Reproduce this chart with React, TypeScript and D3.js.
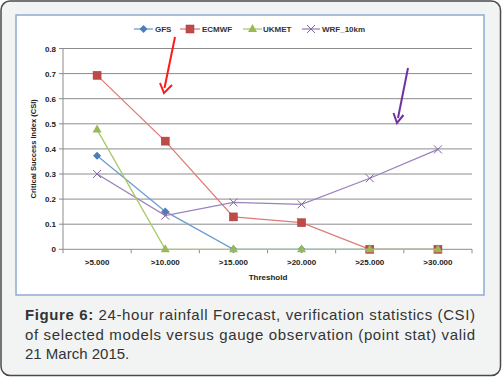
import React from "react";
import * as d3 from "d3";

const categories = [">5.000", ">10.000", ">15.000", ">20.000", ">25.000", ">30.000"];
const gfs = [0.373, 0.151, 0, 0, 0, 0];
const ecmwf = [0.693, 0.431, 0.129, 0.106, 0, 0];
const ukmet = [0.477, 0, 0, 0, 0, 0];
const wrf = [0.3, 0.134, 0.187, 0.179, 0.283, 0.398];
const yTicks = [0, 0.1, 0.2, 0.3, 0.4, 0.5, 0.6, 0.7, 0.8];
const seriesNames = ["GFS", "ECMWF", "UKMET", "WRF_10km"];

const W = 502, H = 377;
const plot = { left: 63, right: 472, top: 48.5, bottom: 249.3 };

export default function App() {
  const x = d3.scaleBand().domain(categories).range([plot.left, plot.right]);
  const y = d3.scaleLinear().domain([0, 0.8]).range([plot.bottom, plot.top]);
  const cx = (c: string) => (x(c) as number) + x.bandwidth() / 2;
  const line = (vals: number[]) =>
    d3.line<number>().x((_, i) => cx(categories[i])).y((v) => y(v))(vals) as string;

  const series = [
    { name: seriesNames[0], vals: gfs, color: "#4a7ebb", line: "#6d9bd3", marker: "diamond" },
    { name: seriesNames[1], vals: ecmwf, color: "#be4b48", line: "#e07a76", marker: "square" },
    { name: seriesNames[3], vals: wrf, color: "#8064a2", line: "#9a82bd", marker: "x" },
    { name: seriesNames[2], vals: ukmet, color: "#98b954", line: "#a9c96a", marker: "triangle" },
  ];

  const marker = (type: string, px: number, py: number, color: string, key: string) => {
    if (type === "diamond")
      return <path key={key} d={`M${px},${py - 4}L${px + 4},${py}L${px},${py + 4}L${px - 4},${py}Z`} fill={color} />;
    if (type === "square")
      return <rect key={key} x={px - 4} y={py - 4} width={8} height={8} fill={color} stroke="#a33a37" strokeWidth={0.5} />;
    if (type === "triangle")
      return <path key={key} d={`M${px},${py - 5}L${px + 4.5},${py + 3}L${px - 4.5},${py + 3}Z`} fill={color} />;
    return (
      <path key={key} d={`M${px - 4},${py - 4}L${px + 4},${py + 4}M${px + 4},${py - 4}L${px - 4},${py + 4}`} stroke={color} strokeWidth={1} />
    );
  };

  const legendItems = [
    { name: "GFS", x1: 134, x2: 153, tx: 155, color: "#4a7ebb", line: "#6d9bd3", marker: "diamond" },
    { name: "ECMWF", x1: 180, x2: 200, tx: 202, color: "#be4b48", line: "#e07a76", marker: "square" },
    { name: "UKMET", x1: 243, x2: 262, tx: 263, color: "#98b954", line: "#a9c96a", marker: "triangle" },
    { name: "WRF_10km", x1: 302, x2: 320, tx: 322, color: "#8064a2", line: "#9a82bd", marker: "x" },
  ];

  const boundaries = d3.range(categories.length + 1).map((i) => plot.left + i * x.bandwidth());
  const smallFont = "Liberation Sans, Arial, sans-serif";

  return (
    <svg width={W} height={H} style={{ position: "absolute", left: 0, top: 0 }}>
      <rect x={1} y={1} width={W - 2.5} height={H - 2.5} rx={9} fill="#f2f4f4" stroke="#4a4a4a" strokeWidth={1.5} />
      <rect x={16} y={15} width={468} height={280} fill="#ffffff" stroke="#8eaad6" strokeWidth={1.5} />

      {yTicks.map((t) => (
        <line key={t} x1={plot.left} x2={plot.right} y1={y(t)} y2={y(t)} stroke="#8c8c8c" strokeWidth={1} />
      ))}
      <line x1={plot.left} x2={plot.left} y1={plot.top} y2={plot.bottom} stroke="#8c8c8c" />
      {yTicks.map((t) => (
        <line key={"yt" + t} x1={plot.left - 4} x2={plot.left} y1={y(t)} y2={y(t)} stroke="#8c8c8c" />
      ))}
      {yTicks.map((t) => (
        <text key={"yl" + t} x={56} y={y(t) + 3} textAnchor="end" fontSize={8} fontWeight="bold" fill="#222" fontFamily={smallFont}>
          {t === 0 ? "0" : t.toFixed(1)}
        </text>
      ))}
      {boundaries.map((b, i) => (
        <line key={"xt" + i} x1={b} x2={b} y1={plot.bottom} y2={plot.bottom + 4} stroke="#8c8c8c" />
      ))}
      {categories.map((c) => (
        <text key={c} x={cx(c)} y={264.5} textAnchor="middle" fontSize={8} fontWeight="bold" fill="#222" fontFamily={smallFont}>
          {c}
        </text>
      ))}
      <text x={268} y={280} textAnchor="middle" fontSize={8} fontWeight="bold" fill="#222" fontFamily={smallFont}>
        Threshold
      </text>
      <text
        transform={`translate(36,${(plot.top + plot.bottom) / 2}) rotate(-90)`}
        textAnchor="middle"
        fontSize={7.5}
        fontWeight="bold"
        fill="#222"
        fontFamily={smallFont}
      >
        Critical Success Index (CSI)
      </text>

      {series.map((s) => (
        <g key={s.name}>
          <path d={line(s.vals)} fill="none" stroke={s.line} strokeWidth={1.3} />
          {s.vals.map((v, i) => marker(s.marker, cx(categories[i]), y(v), s.color, s.name + i))}
        </g>
      ))}

      {legendItems.map((l) => (
        <g key={l.name}>
          <line x1={l.x1} x2={l.x2} y1={29} y2={29} stroke={l.line} strokeWidth={1.3} />
          {marker(l.marker, (l.x1 + l.x2) / 2, 29, l.color, "lg" + l.name)}
          <text x={l.tx} y={32} fontSize={8} fontWeight="bold" fill="#333" fontFamily={smallFont}>
            {l.name}
          </text>
        </g>
      ))}

      <line x1={175} y1={37} x2={164.5} y2={88} stroke="#ff1a1a" strokeWidth={2} />
      <path d="M160,83 L164,93 L172,85" fill="none" stroke="#ff1a1a" strokeWidth={2} />
      <line x1={408} y1={68} x2={398} y2={118} stroke="#7030a0" strokeWidth={2} />
      <path d="M393.5,113 L397,123 L403.5,115" fill="none" stroke="#7030a0" strokeWidth={2} />

      <g fontFamily="Liberation Sans, Arial, sans-serif" fontSize={15} fill="#333">
        <text x={25} y={320} textLength={450} lengthAdjust="spacing">
          <tspan fontWeight="bold">Figure 6:</tspan> 24-hour rainfall Forecast, verification statistics (CSI)
        </text>
        <text x={25} y={339.5} textLength={450} lengthAdjust="spacing">
          of selected models versus gauge observation (point stat) valid
        </text>
        <text x={25} y={359}>21 March 2015.</text>
      </g>
    </svg>
  );
}
